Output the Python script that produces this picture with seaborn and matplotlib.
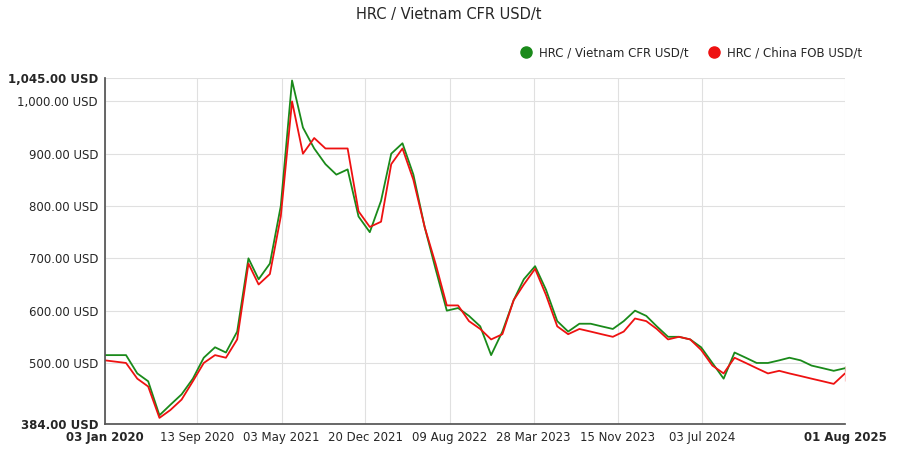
import matplotlib.pyplot as plt
import numpy as np
import pandas as pd
import seaborn as sns

months = pd.date_range("2020-01-03", periods=67, freq="MS")
months = [pd.Timestamp("2020-01-03")] + list(months[1:]) + [pd.Timestamp("2025-08-01")]

vietnam = [515, 515, 480, 465, 400, 420, 440, 470, 510, 530, 520, 560,
           700, 660, 690, 800, 1040, 950, 910, 880, 860, 870, 780, 750,
           810, 900, 920, 860, 760, 680, 600, 605, 590, 570, 515, 560,
           620, 660, 685, 640, 580, 560, 575, 575, 570, 565, 580, 600,
           590, 570, 550, 550, 545, 530, 500, 470, 520, 510, 500, 500,
           505, 510, 505, 495, 490, 485, 485, 495]
china = [505, 500, 470, 455, 395, 410, 430, 465, 500, 515, 510, 545,
         690, 650, 670, 780, 1000, 900, 930, 910, 910, 910, 790, 760,
         770, 880, 910, 850, 760, 690, 610, 610, 580, 565, 545, 555,
         620, 650, 680, 630, 570, 555, 565, 560, 555, 550, 560, 585,
         580, 565, 545, 550, 545, 525, 495, 480, 510, 500, 490, 480,
         485, 480, 475, 470, 465, 460, 465, 495]

tick_dates = ["2020-01-03", "2020-09-13", "2021-05-03", "2021-12-20", "2022-08-09",
              "2023-03-28", "2023-11-15", "2024-07-03", "2025-08-01"]
y_ticks = [384, 500, 600, 700, 800, 900, 1000, 1045]

df = pd.DataFrame({"date": months, "Vietnam": vietnam, "China": china})

sns.set_theme(style="white")
fig, ax = plt.subplots(figsize=(8.97, 4.58), dpi=100)
sns.lineplot(data=df, x="date", y="Vietnam", color="#1a8a1a", lw=1.3, ax=ax)
sns.lineplot(data=df, x="date", y="China", color="#ee1111", lw=1.3, ax=ax)

ax.set_ylim(384, 1045)
ax.set_xlim(pd.Timestamp("2020-01-03"), pd.Timestamp("2025-08-01"))
ax.set_yticks(y_ticks)
ax.set_yticklabels([f"{v:,.2f} USD" for v in y_ticks], fontsize=8.5)
for i in (0, -1):
    ax.get_yticklabels()[i].set_fontweight("bold")
td = pd.to_datetime(tick_dates)
ax.set_xticks(td)
ax.set_xticklabels([d.strftime("%d %b %Y") for d in td], fontsize=8.5)
for i in (0, -1):
    ax.get_xticklabels()[i].set_fontweight("bold")
ax.grid(True, color="#e0e0e0", lw=0.8)
ax.set_xlabel("")
ax.set_ylabel("")
for s in ["top", "right"]:
    ax.spines[s].set_visible(False)
for s in ["left", "bottom"]:
    ax.spines[s].set_color("#555555")
ax.tick_params(length=3, pad=2)

handles = [plt.Line2D([], [], marker="o", ls="", color=c, markersize=8)
           for c in ["#1a8a1a", "#ee1111"]]
ax.legend(handles, ["HRC / Vietnam CFR USD/t", "HRC / China FOB USD/t"], ncol=2,
          loc="lower right", bbox_to_anchor=(1.03, 1.04), frameon=False,
          fontsize=8.5, handletextpad=0.1, columnspacing=1.2, borderaxespad=0)
fig.suptitle("HRC / Vietnam CFR USD/t", fontsize=10.5, y=0.985)
fig.subplots_adjust(left=0.117, right=0.942, top=0.83, bottom=0.075)
fig.savefig("out.png")
